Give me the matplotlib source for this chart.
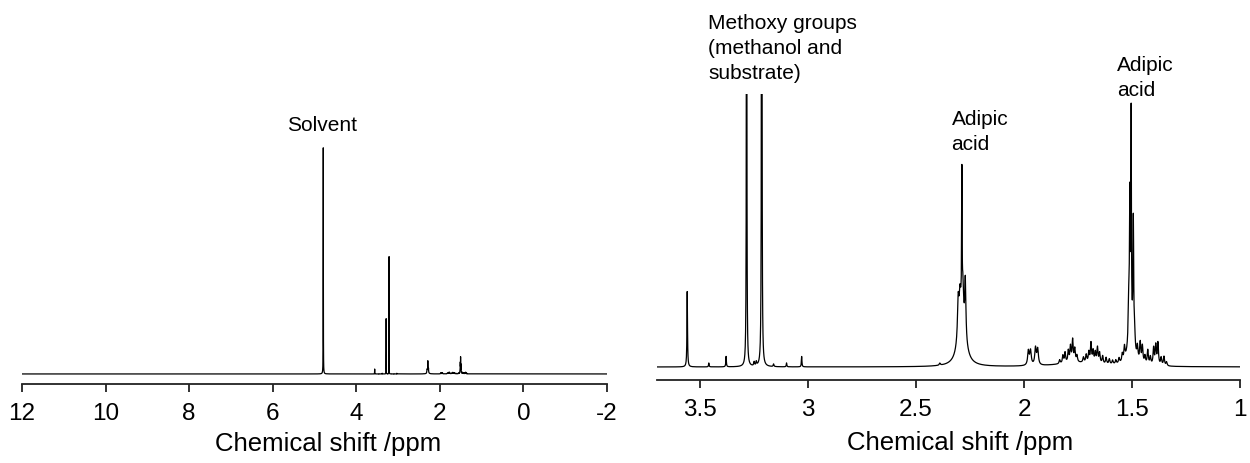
import numpy as np
import matplotlib.pyplot as plt

plt.rcParams['font.family'] = ['Liberation Sans', 'DejaVu Sans']

# peaks: position /ppm, height (main 1.50 ppm line ~ 100), half width /ppm
singlet_ppm = [4.79, 3.56, 3.46, 3.38, 3.285, 3.25, 3.24, 3.215, 3.16, 3.10, 3.03, 2.39]
singlet_h = [1330, 29, 1.5, 4, 325, 1.5, 1.5, 690, 1.0, 1.5, 4, 0.8]
singlet_w = [0.002, 0.0015, 0.0015, 0.0015, 0.001, 0.002, 0.002, 0.0008, 0.002, 0.0015, 0.0015, 0.003]

adipic_a_ppm = [2.288, 2.305, 2.297, 2.288, 2.283, 2.272]
adipic_a_h = [22, 15, 10, 50, 10, 22]
adipic_a_w = [0.017, 0.004, 0.004, 0.0012, 0.003, 0.003]

adipic_b_ppm = [1.505, 1.515, 1.510, 1.504, 1.494, 1.488]
adipic_b_h = [15, 15, 50, 78, 47, 6]
adipic_b_w = [0.012, 0.003, 0.002, 0.0012, 0.002, 0.003]

multi_ppm = [1.980, 1.970, 1.947, 1.937,
             1.835, 1.820, 1.810, 1.795, 1.785, 1.775, 1.765, 1.755,
             1.725, 1.712, 1.700, 1.690, 1.680, 1.670, 1.660, 1.650, 1.636, 1.620,
             1.605, 1.590, 1.575, 1.560, 1.545, 1.535,
             1.475, 1.462, 1.452, 1.440, 1.427, 1.415, 1.400, 1.390, 1.380, 1.365,
             1.352, 1.340, 1.75]
multi_h = [5.5, 5.5, 6.5, 6,
           1.5, 3, 4, 4.5, 6, 8.5, 5, 2.5,
           2, 3, 4, 7.5, 4.5, 4, 6, 4, 3, 2.5,
           2, 1.5, 1.5, 2, 3, 5,
           5, 7.5, 6.5, 3, 5.5, 3, 6.5, 7.5, 8.5, 3,
           3.5, 1.5, 1.5]
multi_w = [0.004] * 4 + [0.003] * 36 + [0.12]

peak_ppm = np.array(singlet_ppm + adipic_a_ppm + adipic_b_ppm + multi_ppm)
peak_h = np.array(singlet_h + adipic_a_h + adipic_b_h + multi_h)
peak_w = np.array(singlet_w + adipic_a_w + adipic_b_w + multi_w)

shift = np.arange(-2.0, 12.0, 0.0002)
spec = np.zeros_like(shift)
for p, h, w in zip(peak_ppm, peak_h, peak_w):
    spec += h / (1 + ((shift - p) / w) ** 2)

fig = plt.figure(figsize=(12.5, 4.64), dpi=100)
ax1 = fig.add_axes([0.0176, 0.1703, 0.468, 0.528])
ax2 = fig.add_axes([0.5256, 0.1789, 0.4664, 0.6164])

for ax in (ax1, ax2):
    ax.plot(shift, spec, color='black', lw=0.9)
    for s in ('top', 'left', 'right'):
        ax.spines[s].set_visible(False)
    ax.spines['bottom'].set_linewidth(1.3)
    ax.spines['bottom'].set_color('#222222')
    ax.set_yticks([])
    ax.tick_params(axis='x', direction='out', length=6, width=1.3, pad=7,
                   labelsize=17.5, color='#222222')
    ax.set_xlabel('Chemical shift /ppm', fontsize=18.5)

ax1.set_xlim(12, -2)
ax1.set_ylim(-59, 1382)
ax1.set_xticks([12, 10, 8, 6, 4, 2, 0, -2])
ax1.set_xticklabels(['12', '10', '8', '6', '4', '2', '0', '-2'])
ax1.xaxis.set_label_coords(0.524, -0.19)
ax1.text(4.83, 1470, 'Solvent', fontsize=15, ha='center', va='center')

ax2.set_xlim(3.70, 1.0)
ax2.set_ylim(-5, 105)
ax2.set_xticks([3.5, 3, 2.5, 2, 1.5, 1])
ax2.set_xticklabels(['3.5', '3', '2.5', '2', '1.5', '1'])
ax2.xaxis.set_label_coords(0.52, -0.176)
ax2.text(3.464, 122.7, 'Methoxy groups\n(methanol and\nsubstrate)', fontsize=15,
         ha='left', va='center', linespacing=1.4)
ax2.text(2.336, 90.6, 'Adipic\nacid', fontsize=15, ha='left', va='center', linespacing=1.4)
ax2.text(1.571, 111.7, 'Adipic\nacid', fontsize=15, ha='left', va='center', linespacing=1.4)

plt.savefig('out.png', dpi=100)
